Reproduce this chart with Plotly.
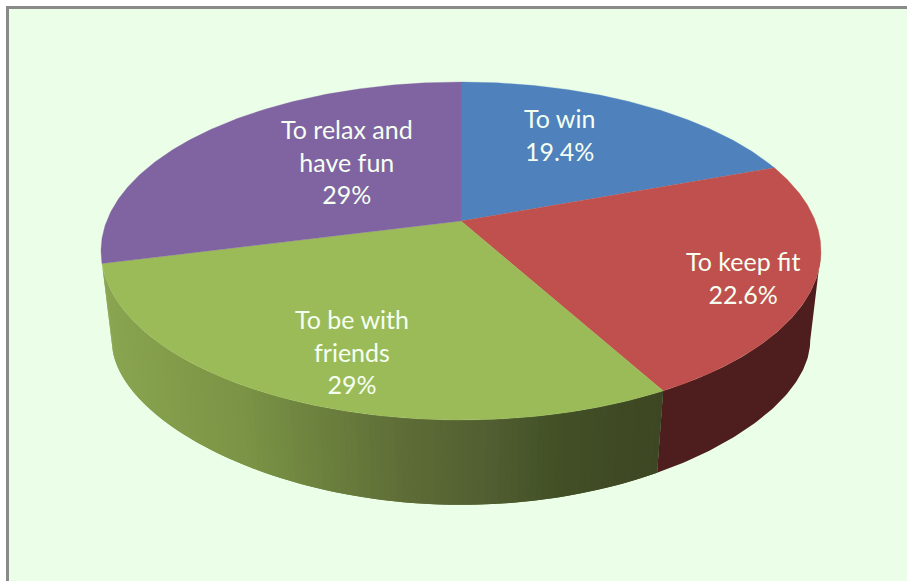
import numpy as np
import plotly.graph_objects as go

# Chart data
categories = ["To win", "To keep fit", "To be with friends", "To relax and have fun"]
shares = [19.4, 22.6, 29, 29]
share_labels = ["19.4%", "22.6%", "29%", "29%"]
label_lines = [["To win"], ["To keep fit"], ["To be with", "friends"], ["To relax and", "have fun"]]

# Slice colours
top_colors = ["#4f81bd", "#c0504d", "#9bbb59", "#8064a2"]
red_side = "#4d1e1d"
green_side_stops = [(105, (139, 166, 81)), (250, (122, 147, 69)), (400, (95, 110, 55)),
                    (480, (82, 96, 50)), (560, (66, 79, 38)), (660, (61, 71, 35))]

# Perspective of the disc, in page pixels
CX, CY = 461.0, 221.0
A, B, K = 163.7, 354.3, 0.1775
SIDE_SX, SIDE_A, SIDE_K, SIDE_DY = 0.97, 130.3, 0.31, 95.0
WALL_START = 100.2

# Label centres, in page pixels
label_centres = [(559, 134.5), (743, 277), (352, 351), (347, 161)]


def rim(theta_deg):
    """Top-rim position for angles measured clockwise from twelve o'clock."""
    t = np.radians(theta_deg)
    w = 1 + K * np.cos(t)
    return B * np.sin(t) / w, -A * np.cos(t) / w


def lower(theta_deg):
    """Bottom edge of the wall below a rim angle."""
    u = -np.cos(np.radians(theta_deg))
    x, _ = rim(theta_deg)
    return CX + SIDE_SX * x, CY + SIDE_DY + SIDE_A * u / (1 - SIDE_K * u)


def green_shade(x):
    xs = [s[0] for s in green_side_stops]
    rgb = [np.interp(x, xs, [s[1][i] for s in green_side_stops]) for i in range(3)]
    return "rgb(%d,%d,%d)" % tuple(round(v) for v in rgb)


edges = np.cumsum([0] + shares) / sum(shares) * 360
fig = go.Figure()


def add_poly(xs, ys, color, line=0.0):
    fig.add_trace(go.Scatter(x=xs, y=ys, mode="lines", fill="toself", fillcolor=color,
                             line=dict(color=color, width=line), hoverinfo="skip",
                             showlegend=False))


def side_strip(a0, a1, color, points=4):
    ts = np.linspace(a0, a1, points)
    tx, ty = rim(ts)
    bx, by = lower(ts)
    add_poly(list(CX + tx) + list(bx[::-1]), list(CY + ty) + list(by[::-1]), color)


# Outer wall: the dark red run is one piece, the green run is a series of
# overlapping strips painted left to right to build up its shading
side_strip(WALL_START, edges[2], red_side, points=80)

green_steps = np.linspace(edges[3], edges[2], 120)
for i in range(len(green_steps) - 1):
    a0 = green_steps[i]
    a1 = green_steps[min(i + 2, len(green_steps) - 1)]
    x_mid = lower((green_steps[i] + green_steps[i + 1]) / 2)[0]
    side_strip(a0, a1, green_shade(x_mid))

# Top faces
for i, color in enumerate(top_colors):
    ts = np.linspace(edges[i], edges[i + 1], 200)
    tx, ty = rim(ts)
    add_poly([CX] + list(CX + tx) + [CX], [CY] + list(CY + ty) + [CY], color, line=0.3)

# Slice labels
for lines, pct, (lx, ly) in zip(label_lines, share_labels, label_centres):
    fig.add_annotation(x=lx, y=ly, text="<br>".join(lines + [pct]), showarrow=False,
                       font=dict(family="Lato", size=25, color="#f5fff2"), align="center",
                       xanchor="center", yanchor="middle")

fig.update_layout(
    width=907, height=581, margin=dict(l=0, r=0, t=0, b=0),
    paper_bgcolor="white", plot_bgcolor="white", showlegend=False,
    xaxis=dict(range=[0, 907], visible=False, fixedrange=True),
    yaxis=dict(range=[581, 0], visible=False, fixedrange=True),
    shapes=[dict(type="rect", xref="x", yref="y", x0=7.5, y0=7.5, x1=960, y1=640,
                 fillcolor="#ebffe8", line=dict(color="#8a8a88", width=3), layer="below")],
)
fig.write_html("out.html", config={"displayModeBar": False})
